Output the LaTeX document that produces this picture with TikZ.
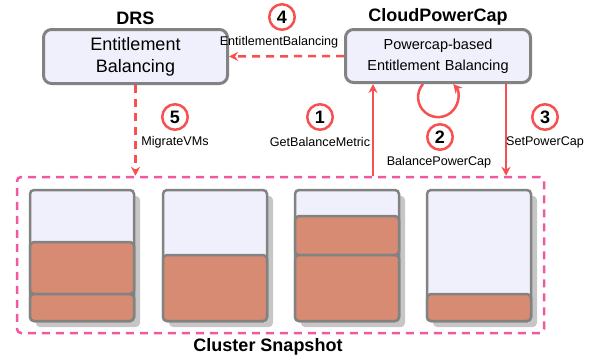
\documentclass[tikz,border=0pt]{standalone}
\usepackage{fontspec}
\setmainfont{Liberation Sans}
\usetikzlibrary{arrows.meta,positioning}
\definecolor{boxfill}{RGB}{240,240,252}
\definecolor{edgegray}{RGB}{130,130,130}
\definecolor{shadowgray}{RGB}{198,198,198}
\definecolor{vmfill}{RGB}{214,139,114}
\definecolor{capred}{RGB}{246,80,80}
\definecolor{dashpink}{RGB}{240,88,160}

\begin{document}
\begin{tikzpicture}[x=1pt,y=-1pt,line width=2.5pt,every node/.style={inner sep=2pt},
  >={Stealth[length=9pt,width=9pt]},
  box/.style={draw=edgegray,fill=boxfill,rounded corners=8pt,line width=3pt,align=center},
  num/.style={circle,draw=capred,fill=white,line width=2.5pt,minimum size=25.5pt,inner sep=0pt,
    font=\fontsize{18}{18}\selectfont\bfseries},
  lab/.style={font=\fontsize{12.6}{14}\selectfont},
  title/.style={font=\fontsize{18}{20}\selectfont\bfseries},
  flow/.style={->,draw=capred},
  dflow/.style={flow,dash pattern=on 8pt off 6pt}]
\useasboundingbox(0,0)rectangle(600,360);
% cluster with its four hosts
\node[draw=dashpink,dash pattern=on 8pt off 6pt,rounded corners=4pt,minimum width=527pt,
  minimum height=156pt](cluster)at(280.5,255){};
\node[title](snap)at(268,347){Cluster Snapshot};
\foreach \x in {30,163,295,427}{
  \fill[shadowgray,rounded corners=4pt](\x+6,196)rectangle(\x+110,327);
  \draw[edgegray,fill=boxfill,rounded corners=4pt](\x,190)rectangle(\x+104,321);}
\foreach \x/\t/\b in {30/242/294,30/294/321,163/255/321,295/216/255,295/255/321,427/294/321}
  \draw[edgegray,fill=vmfill,rounded corners=4pt](\x,\t)rectangle(\x+104,\b);
% the two balancers
\node[box,minimum width=184pt,minimum height=54pt,font=\fontsize{18}{22}\selectfont]
  (drs)at(135.5,56.5){Entitlement\\Balancing};
\node[title,above=0pt of drs](drst){DRS};
\node[box,minimum width=185pt,minimum height=53pt,font=\fontsize{14.5}{21}\selectfont]
  (cpc)at(438,56){Powercap-based\\Entitlement\hspace{5pt}Balancing};
\node[title,above=0pt of cpc](cpct){CloudPowerCap};
% steps
\draw[flow]([xshift=-65pt]cpc.south|-cluster.north)--([xshift=-65pt]cpc.south);
\draw[flow]([xshift=-15pt]cpc.south)arc[start angle=-139,end angle=-401,radius=20];
\draw[flow]([xshift=68pt]cpc.south)--([xshift=68pt]cpc.south|-cluster.north);
\draw[dflow](cpc.west)--(drs.east);
\draw[dflow](drs.south)--(drs.south|-cluster.north);
\node[num](n1)at(320,117){1};\node[lab](l1)at(320,142){GetBalanceMetric};
\node[num](n2)at(440,137){2};\node[lab](l2)at(439,162){BalancePowerCap};
\node[num](n3)at(545,117){3};\node[lab](l3)at(545,142){SetPowerCap};
\node[num](n4)at(282,17){4};\node[lab](l4)at(279,42){EntitlementBalancing};
\node[num](n5)at(175,117){5};\node[lab](l5)at(175,142){MigrateVMs};
\end{tikzpicture}
\end{document}
